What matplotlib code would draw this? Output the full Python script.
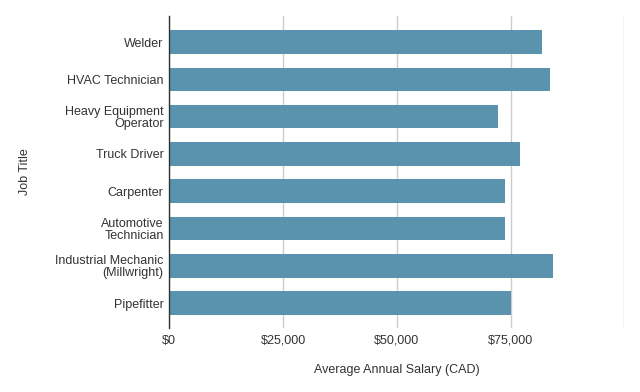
import matplotlib
matplotlib.use("Agg")
import matplotlib.pyplot as plt
import numpy as np

jobs = [
    "Welder",
    "HVAC Technician",
    "Heavy Equipment\nOperator",
    "Truck Driver",
    "Carpenter",
    "Automotive\nTechnician",
    "Industrial Mechanic\n(Millwright)",
    "Pipefitter",
]
salaries = [81900, 83600, 72200, 77000, 73700, 73700, 84300, 75000]
x_ticks = [0, 25000, 50000, 75000, 100000]
x_tick_labels = ["$0", "$25,000", "$50,000", "$75,000", ""]

plt.rcParams.update({
    "font.family": ["Liberation Sans", "DejaVu Sans"],
    "font.size": 9,
    "text.color": "#333333",
})

fig = plt.figure(figsize=(6.4, 3.92), dpi=100)
ax = fig.add_axes([169.3 / 640, 64 / 392, 455 / 640, 312 / 392])

y = np.arange(len(jobs))
ax.barh(y, salaries, height=0.635, color="#5993ae", zorder=3)

ax.set_xlim(0, 100000)
ax.set_ylim(len(jobs) - 1 + 0.67, -0.70)
ax.set_xticks(x_ticks)
ax.set_xticklabels(x_tick_labels, color="#333333")
ax.set_yticks(y)
ax.set_yticklabels(jobs, color="#333333", linespacing=1.0,
                   multialignment="right")
ax.tick_params(axis="both", length=0)
ax.tick_params(axis="x", pad=5)
ax.tick_params(axis="y", pad=4)

ax.grid(axis="x", color="#cccccc", linewidth=1, zorder=0)
for s in ["top", "right", "bottom"]:
    ax.spines[s].set_visible(False)
ax.spines["left"].set_color("#333333")
ax.spines["left"].set_linewidth(1)
ax.spines["left"].set_zorder(4)

fig.text(396.7 / 640, 1 - 370 / 392, "Average Annual Salary (CAD)",
         ha="center", va="center", color="#333333")
fig.text(25 / 640, 1 - 172 / 392, "Job Title", rotation=90,
         ha="center", va="center", color="#333333")

fig.savefig("out.png", dpi=100)
